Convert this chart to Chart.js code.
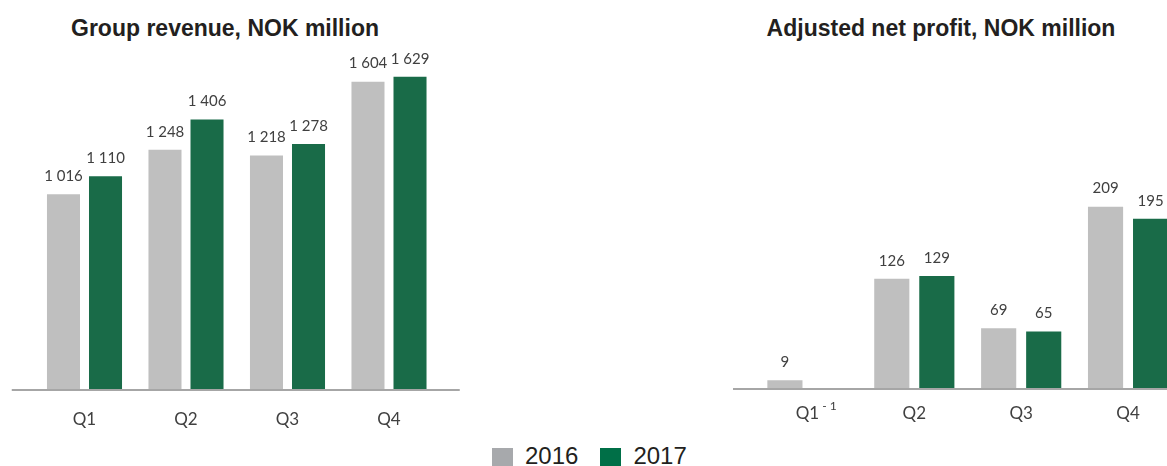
<!DOCTYPE html>
<html>
<head>
<meta charset="utf-8">
<script src="https://cdn.jsdelivr.net/npm/chart.js@4/dist/chart.umd.min.js"></script>
<style>
  html, body { margin: 0; padding: 0; background: #fff; width: 1167px; height: 466px; overflow: hidden; position: relative; }
  canvas { position: absolute; top: 0; }
  #c1 { left: 0; }
  #c2 { left: 700px; }
  .title { position: absolute; top: 14px; font: bold 23px "Liberation Sans", Arial, sans-serif; color: #231F20; white-space: nowrap; transform: translateX(-50%); line-height: 28px; }
  #t1 { left: 225px; }
  #t2 { left: 941px; }
  #legend { position: absolute; left: 492px; top: 442px; font: 24px "Liberation Sans", Arial, sans-serif; color: #231F20; white-space: nowrap; line-height: 28px; }
  #legend span.sw { display: inline-block; width: 21px; height: 18px; vertical-align: -2px; margin-right: 12px; }
  #legend span.item { margin-right: 22px; }
</style>
</head>
<body>
<div class="title" id="t1">Group revenue, NOK million</div>
<div class="title" id="t2">Adjusted net profit, NOK million</div>
<canvas id="c1" width="470" height="440"></canvas>
<canvas id="c2" width="500" height="440"></canvas>
<div id="legend"></div>
<script>
// ---- data ----
const quarters = ['Q1', 'Q2', 'Q3', 'Q4'];
const profitFootnotes = ['- 1', '', '', ''];
const seriesNames = ['2016', '2017'];
const revenue2016 = [1016, 1248, 1218, 1604];
const revenue2017 = [1110, 1406, 1278, 1629];
const profit2016 = [9, 126, 69, 209];
const profit2017 = [null, 129, 65, 195];
const revenueAxisMax = 1717;
const profitAxisMax = 378;

const barColors = ['#BFBFBF', '#196B48'];
const legendColors = ['#A7A9AC', '#006F47'];

function fmt(v) {
  return String(v).replace(/\B(?=(\d{3})+(?!\d))/g, ' ');
}

const valueLabels = {
  id: 'valueLabels',
  afterDatasetsDraw(chart) {
    const ctx = chart.ctx;
    ctx.save();
    ctx.font = '15px Lato, "Open Sans", sans-serif';
    ctx.fillStyle = '#404040';
    ctx.textAlign = 'center';
    ctx.textBaseline = 'middle';
    chart.data.datasets.forEach((ds, i) => {
      const meta = chart.getDatasetMeta(i);
      meta.data.forEach((bar, j) => {
        const v = ds.data[j];
        if (v === null || v === undefined) return;
        ctx.fillText(fmt(v), bar.x, bar.y - 18);
      });
    });
    ctx.restore();
  }
};

const baseline = {
  id: 'baseline',
  afterDatasetsDraw(chart, args, opts) {
    const ctx = chart.ctx;
    const y = chart.scales.y.getPixelForValue(0);
    ctx.save();
    ctx.strokeStyle = '#A6A6A6';
    ctx.lineWidth = 2;
    ctx.beginPath();
    ctx.moveTo(chart.chartArea.left - opts.extendLeft, y + 1);
    ctx.lineTo(chart.chartArea.right + opts.extendRight, y + 1);
    ctx.stroke();
    ctx.restore();
  }
};

const footnotes = {
  id: 'footnotes',
  afterDraw(chart, args, opts) {
    if (!opts.marks) return;
    const ctx = chart.ctx;
    const xs = chart.scales.x;
    ctx.save();
    ctx.font = '17px Lato, "Open Sans", sans-serif';
    const tickY = xs.top + opts.labelOffset;
    opts.marks.forEach((m, i) => {
      if (!m) return;
      const x = xs.getPixelForValue(i);
      const w = ctx.measureText(quarters[i]).width;
      ctx.font = '12px Lato, "Open Sans", sans-serif';
      ctx.fillStyle = '#404040';
      ctx.textAlign = 'left';
      ctx.textBaseline = 'middle';
      ctx.fillText(m, x + w / 2 + 3, tickY - 5);
    });
    ctx.restore();
  }
};

function makeChart(id, d16, d17, max, pad, cat, bar, axisH, ext, marks, tickPad) {
  return new Chart(document.getElementById(id), {
    type: 'bar',
    data: {
      labels: quarters,
      datasets: [
        { label: seriesNames[0], data: d16, backgroundColor: barColors[0], categoryPercentage: cat, barPercentage: bar },
        { label: seriesNames[1], data: d17, backgroundColor: barColors[1], categoryPercentage: cat, barPercentage: bar }
      ]
    },
    options: {
      responsive: false,
      animation: false,
      events: [],
      layout: { padding: pad },
      plugins: {
        legend: { display: false },
        title: { display: false },
        tooltip: { enabled: false },
        baseline: ext,
        footnotes: { marks: marks, labelOffset: tickPad + 8 }
      },
      scales: {
        x: {
          grid: { display: false, drawTicks: false },
          border: { display: false },
          ticks: { color: '#404040', font: { family: 'Lato, "Open Sans", sans-serif', size: 17 }, padding: tickPad },
          afterFit(s) { s.height = axisH; }
        },
        y: { display: false, min: 0, max: max }
      }
    },
    plugins: [valueLabels, baseline, footnotes]
  });
}

makeChart('c1', revenue2016, revenue2017, revenueAxisMax,
  { left: 33.75, right: 30.25, top: 60, bottom: 0 }, 0.828, 0.786, 51,
  { extendLeft: 22, extendRight: 20 }, null, 20);
makeChart('c2', profit2016, profit2017, profitAxisMax,
  { left: 54, right: 18.5, top: 60, bottom: 0 }, 0.843, 0.78, 52,
  { extendLeft: 21, extendRight: 40 }, profitFootnotes, 15);

// legend
const lg = document.getElementById('legend');
seriesNames.forEach((n, i) => {
  const item = document.createElement('span');
  item.className = 'item';
  const sw = document.createElement('span');
  sw.className = 'sw';
  sw.style.background = legendColors[i];
  item.appendChild(sw);
  item.appendChild(document.createTextNode(n));
  lg.appendChild(item);
});
</script>
</body>
</html>
